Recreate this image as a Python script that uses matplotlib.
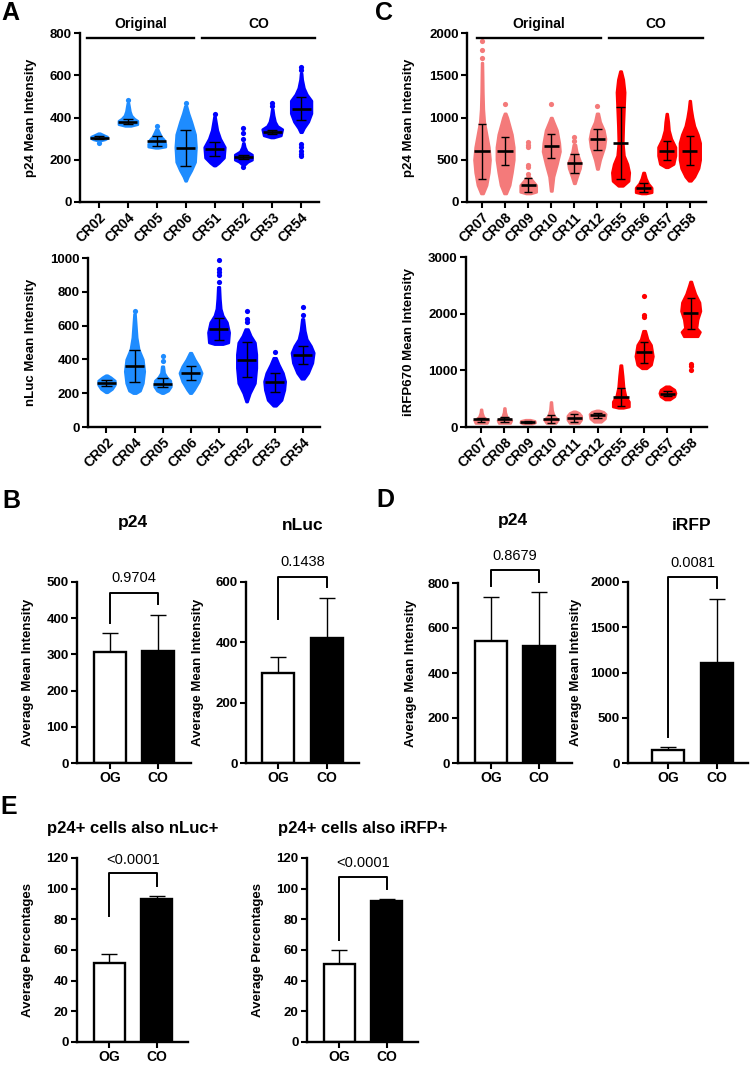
import numpy as np
import matplotlib
matplotlib.use("Agg")
import matplotlib.pyplot as plt

plt.rcParams['font.family'] = ['Liberation Sans', 'DejaVu Sans']
plt.rcParams['font.weight'] = 'bold'
plt.rcParams['axes.labelweight'] = 'bold'
plt.rcParams['font.size'] = 9.5

# ---------------- data ----------------
# panel A (p24 and nLuc, per clone)
a_labels = ["CR02", "CR04", "CR05", "CR06", "CR51", "CR52", "CR53", "CR54"]
a_n_orig = 4
a_p24_median = [305, 380, 290, 256, 253, 214, 332, 442]
a_p24_low = [298, 367, 266, 172, 217, 204, 320, 388]
a_p24_high = [312, 393, 313, 340, 285, 223, 343, 495]
# swarm outline: (value, half width) from bottom to top
a_p24_shape = [
    [(290, 0.03), (296, 0.2), (302, 0.28), (310, 0.28), (318, 0.15), (326, 0.03)],
    [(360, 0.1), (368, 0.33), (385, 0.33), (395, 0.22), (410, 0.12), (430, 0.07), (455, 0.04), (470, 0.02)],
    [(256, 0.05), (262, 0.3), (275, 0.3), (295, 0.25), (310, 0.15), (330, 0.08), (345, 0.03)],
    [(100, 0.02), (120, 0.08), (150, 0.2), (190, 0.33), (260, 0.36), (320, 0.33), (380, 0.2), (420, 0.1), (455, 0.03)],
    [(172, 0.03), (185, 0.15), (210, 0.33), (260, 0.36), (300, 0.2), (340, 0.1), (380, 0.05), (405, 0.02)],
    [(175, 0.03), (190, 0.15), (200, 0.3), (225, 0.3), (240, 0.12), (260, 0.05), (280, 0.02)],
    [(305, 0.05), (315, 0.3), (345, 0.35), (360, 0.18), (380, 0.1), (410, 0.05), (440, 0.02)],
    [(330, 0.03), (350, 0.1), (380, 0.25), (420, 0.36), (480, 0.36), (510, 0.2), (540, 0.1), (580, 0.04), (610, 0.02)],
]
a_p24_extra = [[277], [483], [359], [470], [415], [166, 300, 325, 351], [455, 467], [217, 225, 240, 260, 275, 625, 641]]

a_nluc_median = [261, 360, 257, 321, 580, 396, 265, 428]
a_nluc_low = [245, 267, 234, 277, 515, 293, 206, 372]
a_nluc_high = [277, 455, 291, 360, 647, 501, 321, 479]
a_nluc_shape = [
    [(205, 0.03), (225, 0.2), (250, 0.3), (275, 0.3), (295, 0.15), (307, 0.03)],
    [(200, 0.05), (215, 0.2), (260, 0.3), (330, 0.35), (400, 0.3), (460, 0.15), (530, 0.08), (600, 0.05), (670, 0.02)],
    [(200, 0.03), (215, 0.2), (240, 0.3), (275, 0.28), (295, 0.15), (320, 0.06), (360, 0.03)],
    [(200, 0.03), (220, 0.12), (270, 0.3), (320, 0.4), (360, 0.3), (400, 0.15), (440, 0.03)],
    [(490, 0.15), (500, 0.35), (560, 0.38), (620, 0.3), (660, 0.15), (700, 0.08), (760, 0.05), (830, 0.03)],
    [(150, 0.02), (200, 0.12), (260, 0.3), (350, 0.35), (430, 0.35), (500, 0.3), (540, 0.15), (580, 0.05)],
    [(125, 0.05), (160, 0.25), (220, 0.35), (270, 0.38), (320, 0.3), (370, 0.15), (410, 0.05)],
    [(285, 0.05), (320, 0.2), (380, 0.35), (440, 0.4), (480, 0.3), (520, 0.15), (570, 0.08), (640, 0.03)],
]
a_nluc_extra = [[], [689], [390, 420], [], [860, 900, 920, 935, 990], [620, 640, 689], [445], [660, 709]]

# panel C (p24 and iRFP670, per clone)
c_labels = ["CR07", "CR08", "CR09", "CR10", "CR11", "CR12", "CR55", "CR56", "CR57", "CR58"]
c_n_orig = 6
c_p24_median = [598, 602, 201, 661, 457, 740, 701, 165, 602, 602]
c_p24_low = [276, 437, 114, 524, 346, 614, 276, 118, 492, 433]
c_p24_high = [925, 764, 280, 799, 563, 862, 1126, 220, 720, 776]
c_p24_shape = [
    [(100, 0.05), (200, 0.2), (350, 0.3), (500, 0.35), (650, 0.3), (800, 0.2), (950, 0.1), (1100, 0.06), (1300, 0.04), (1500, 0.03), (1650, 0.02)],
    [(100, 0.05), (200, 0.2), (350, 0.3), (500, 0.38), (650, 0.38), (800, 0.3), (900, 0.2), (1000, 0.1), (1050, 0.03)],
    [(100, 0.1), (120, 0.35), (200, 0.35), (250, 0.2), (300, 0.05)],
    [(130, 0.03), (300, 0.1), (450, 0.25), (600, 0.38), (700, 0.35), (850, 0.25), (950, 0.1), (1000, 0.03)],
    [(220, 0.03), (300, 0.12), (400, 0.25), (460, 0.28), (520, 0.2), (600, 0.1), (680, 0.05)],
    [(390, 0.03), (500, 0.12), (650, 0.3), (750, 0.35), (850, 0.28), (950, 0.12), (1050, 0.04)],
    [(190, 0.1), (250, 0.35), (350, 0.38), (450, 0.3), (550, 0.15), (700, 0.1), (900, 0.12), (1100, 0.15), (1300, 0.18), (1450, 0.12), (1550, 0.03)],
    [(100, 0.1), (115, 0.35), (170, 0.35), (220, 0.2), (280, 0.1), (350, 0.03)],
    [(410, 0.05), (450, 0.3), (550, 0.38), (650, 0.38), (750, 0.2), (850, 0.1), (950, 0.07), (1047, 0.02)],
    [(250, 0.05), (300, 0.2), (400, 0.38), (500, 0.45), (700, 0.45), (800, 0.35), (900, 0.2), (1000, 0.12), (1100, 0.06), (1200, 0.02)],
]
c_p24_extra = [[1700, 1800, 1905], [1157], [330, 420, 440, 650, 680, 713], [1157], [720, 772], [1138], [], [], [], []]

c_irfp_median = [136, 136, 89, 148, 159, 207, 532, 1317, 591, 2008]
c_irfp_low = [89, 83, 75, 77, 89, 159, 366, 1134, 543, 1725]
c_irfp_high = [159, 171, 100, 207, 224, 248, 691, 1494, 632, 2274]
c_irfp_shape = [
    [(70, 0.25), (120, 0.3), (180, 0.1), (250, 0.04), (313, 0.02)],
    [(70, 0.25), (120, 0.3), (180, 0.1), (260, 0.04), (337, 0.02)],
    [(59, 0.2), (80, 0.32), (110, 0.3), (130, 0.1)],
    [(70, 0.2), (130, 0.3), (200, 0.12), (300, 0.05), (443, 0.02)],
    [(70, 0.2), (130, 0.3), (200, 0.3), (250, 0.2), (278, 0.05)],
    [(90, 0.15), (150, 0.32), (230, 0.35), (270, 0.25), (295, 0.05)],
    [(337, 0.1), (360, 0.35), (450, 0.35), (550, 0.2), (700, 0.12), (900, 0.08), (1093, 0.03)],
    [(1034, 0.1), (1100, 0.3), (1250, 0.38), (1450, 0.3), (1550, 0.15), (1700, 0.05)],
    [(484, 0.1), (540, 0.3), (600, 0.35), (660, 0.3), (720, 0.08)],
    [(1600, 0.3), (1680, 0.4), (1750, 0.25), (1900, 0.3), (2050, 0.42), (2200, 0.38), (2350, 0.2), (2500, 0.08), (2569, 0.03)],
]
c_irfp_extra = [[], [], [], [], [], [], [], [1950, 1970, 2303], [], [1004, 1080, 1120]]

# bar panels: OG vs CO
bar_groups = ["OG", "CO"]
b_p24_mean = [307, 310]
b_p24_top = [360, 410]
b_nluc_mean = [298, 414]
b_nluc_top = [351, 546]
d_p24_mean = [542, 520]
d_p24_top = [738, 760]
d_irfp_mean = [140, 1105]
d_irfp_top = [177, 1812]
e_nluc_mean = [51.5, 93]
e_nluc_top = [57.5, 95.5]
e_irfp_mean = [50.6, 92]
e_irfp_top = [60, 93]
p_values = ["0.9704", "0.1438", "0.8679", "0.0081", "<0.0001", "<0.0001"]

# ---------------- layout ----------------
W, H = 750, 1065
fig = plt.figure(figsize=(W / 100, H / 100), dpi=100)


def add_ax(l, r, t, b):
    return fig.add_axes([l / W, 1 - b / H, (r - l) / W, (b - t) / H])


def style(ax, ymax, step):
    for s in ['top', 'right']:
        ax.spines[s].set_visible(False)
    for s in ['left', 'bottom']:
        ax.spines[s].set_linewidth(1.7)
    ax.tick_params(width=1.5, length=4.5, pad=1.5, labelsize=9.5)
    ax.set_ylim(0, ymax)
    ax.set_yticks(np.arange(0, ymax + 1, step))


def ylab(ax, text, xpx, l, r):
    ax.set_ylabel(text, fontsize=9.5)
    ax.yaxis.set_label_coords((xpx - l) / (r - l), 0.5)


def dot_panel(ax, labels, med, low, high, shapes, extra, n_orig, c_orig, c_co):
    for i in range(len(labels)):
        col = c_orig if i < n_orig else c_co
        vals = [p[0] for p in shapes[i]]
        half = np.array([p[1] for p in shapes[i]])
        ax.fill_betweenx(vals, i - half, i + half, facecolor=col, edgecolor=col, lw=1.8)
        ax.scatter([i] * len(extra[i]), extra[i], s=14, color=col, lw=0)
        ax.hlines(med[i], i - 0.33, i + 0.33, color='k', lw=1.9, zorder=3)
        ax.vlines(i, low[i], high[i], color='k', lw=1.0, zorder=3)
        ax.hlines([low[i], high[i]], i - 0.18, i + 0.18, color='k', lw=1.0, zorder=3)
    ax.set_xticks(range(len(labels)))
    ax.set_xticklabels(labels, rotation=45, ha='right', va='top', rotation_mode='anchor', fontsize=10)


def group_header(ax, spans, names):
    tr = ax.get_xaxis_transform()
    for (x0, x1), nm in zip(spans, names):
        ax.plot([x0, x1], [0.973, 0.973], color='k', lw=1.7, transform=tr, clip_on=False)
        ax.text((x0 + x1) / 2, 1.053, nm, transform=tr, ha='center', va='center', fontsize=10)


def bar_panel(ax, means, tops, bracket, ptxt):
    ax.bar([0, 1], means, width=0.65, color=['white', 'black'], edgecolor='black', lw=1.7, zorder=2)
    for xi in [0, 1]:
        ax.vlines(xi, means[xi], tops[xi], color='k', lw=1.0, zorder=1)
        ax.hlines(tops[xi], xi - 0.17, xi + 0.17, color='k', lw=1.0, zorder=1)
    yl, yt, yr, ytxt = bracket
    ax.plot([0, 0, 1, 1], [yl, yt, yt, yr], color='k', lw=1.4, clip_on=False)
    ax.text(0.5, ytxt, ptxt, ha='center', va='center', fontsize=10.5, fontweight='normal')
    ax.set_xticks([0, 1])
    ax.set_xticklabels(bar_groups, fontsize=10)


blue_og, blue_co = '#1E8CFF', '#0000FF'
red_og, red_co = '#F47A7A', '#FF0000'

# A top
ax = add_ax(80, 319, 33, 202)
style(ax, 800, 200)
dot_panel(ax, a_labels, a_p24_median, a_p24_low, a_p24_high, a_p24_shape, a_p24_extra, a_n_orig, blue_og, blue_co)
ax.set_xlim(-0.66, 7.62)
group_header(ax, [(-0.42, 3.29), (3.57, 7.48)], ["Original", "CO"])
ylab(ax, "p24 Mean Intensity", 37, 80, 319)

# A bottom
ax = add_ax(88, 320, 258, 427)
style(ax, 1000, 200)
dot_panel(ax, a_labels, a_nluc_median, a_nluc_low, a_nluc_high, a_nluc_shape, a_nluc_extra, a_n_orig, blue_og, blue_co)
ax.set_xlim(-0.66, 7.62)
ylab(ax, "nLuc Mean Intensity", 37, 88, 320)

# C top
ax = add_ax(467, 706, 33, 202)
style(ax, 2000, 500)
dot_panel(ax, c_labels, c_p24_median, c_p24_low, c_p24_high, c_p24_shape, c_p24_extra, c_n_orig, red_og, red_co)
ax.set_xlim(-0.65, 9.7)
group_header(ax, [(-0.22, 5.15), (5.5, 9.57)], ["Original", "CO"])
ylab(ax, "p24 Mean Intensity", 415, 467, 706)

# C bottom
ax = add_ax(466, 707, 257, 427)
style(ax, 3000, 1000)
dot_panel(ax, c_labels, c_irfp_median, c_irfp_low, c_irfp_high, c_irfp_shape, c_irfp_extra, c_n_orig, red_og, red_co)
ax.set_xlim(-0.65, 9.7)
ylab(ax, "iRFP670 Mean Intensity", 415, 466, 707)

# B
ax = add_ax(77, 191, 582, 763)
style(ax, 500, 100)
bar_panel(ax, b_p24_mean, b_p24_top, (387, 470, 439, 511), p_values[0])
ax.set_xlim(-0.69, 1.69)
ylab(ax, "Average Mean Intensity", 34, 77, 191)
fig.text(133 / W, 1 - 522 / H, "p24", ha='center', va='center', fontsize=12.5)

ax = add_ax(246, 359, 582, 763)
style(ax, 600, 200)
bar_panel(ax, b_nluc_mean, b_nluc_top, (477, 617, 583, 666), p_values[1])
ax.set_xlim(-0.65, 1.65)
ylab(ax, "Average Mean Intensity", 204, 246, 359)
fig.text(303 / W, 1 - 525 / H, "nLuc", ha='center', va='center', fontsize=12.5)

# D
ax = add_ax(458, 572, 583, 763)
style(ax, 800, 200)
bar_panel(ax, d_p24_mean, d_p24_top, (787, 858, 804, 920), p_values[2])
ax.set_xlim(-0.69, 1.69)
ylab(ax, "Average Mean Intensity", 417, 458, 572)
fig.text(513 / W, 1 - 521 / H, "p24", ha='center', va='center', fontsize=12.5)

ax = add_ax(628, 748, 582, 763)
style(ax, 2000, 500)
bar_panel(ax, d_irfp_mean, d_irfp_top, (287, 2055, 1934, 2210), p_values[3])
ax.set_xlim(-0.82, 1.63)
ylab(ax, "Average Mean Intensity", 582, 628, 748)
fig.text(692 / W, 1 - 526 / H, "iRFP", ha='center', va='center', fontsize=12.5)

# E
ax = add_ax(77, 188, 858, 1042)
style(ax, 120, 20)
bar_panel(ax, e_nluc_mean, e_nluc_top, (82, 110, 102, 119), p_values[4])
ax.set_xlim(-0.67, 1.65)
ylab(ax, "Average Percentages", 34, 77, 188)
fig.text(133 / W, 1 - 828 / H, "p24+ cells also nLuc+", ha='center', va='center', fontsize=12)

ax = add_ax(307, 418, 858, 1042)
style(ax, 120, 20)
bar_panel(ax, e_irfp_mean, e_irfp_top, (66.5, 107.6, 100, 117), p_values[5])
ax.set_xlim(-0.67, 1.65)
ylab(ax, "Average Percentages", 264, 307, 418)
fig.text(363 / W, 1 - 828 / H, "p24+ cells also iRFP+", ha='center', va='center', fontsize=12)

# panel letters
for letter, (x, y) in zip("ABCDE", [(10, 13), (11, 501), (384, 13), (385, 500), (9, 807)]):
    fig.text(x / W, 1 - y / H, letter, ha='center', va='center', fontsize=18)

fig.savefig("out.png", dpi=100)
